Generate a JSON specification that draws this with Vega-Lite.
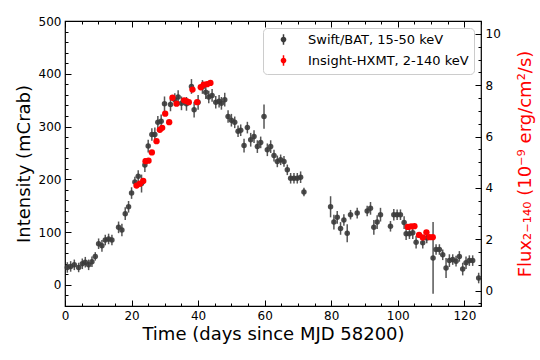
{
  "$schema": "https://vega.github.io/schema/vega-lite/v6.json",
  "width": 416,
  "height": 285,
  "autosize": {"type": "none"},
  "padding": {"left": 65, "top": 21, "right": 59, "bottom": 54},
  "background": "white",
  "config": {
    "font": "DejaVu Sans",
    "view": {"stroke": "black", "strokeWidth": 1.2},
    "axis": {
      "grid": false, "domain": false, "tickColor": "black", "tickWidth": 1,
      "labelColor": "black", "labelFontSize": 12, "labelFont": "DejaVu Sans",
      "titleFont": "DejaVu Sans", "titleFontWeight": "normal", "titleFontSize": 18,
      "titleColor": "black", "labelFlush": false, "labelOverlap": false
    }
  },
  "datasets": {
    "swift": [
      {"t": 0.7, "I": 33, "e": 10}, {"t": 1.7, "I": 35, "e": 10}, {"t": 2.8, "I": 38, "e": 10},
      {"t": 4.1, "I": 33, "e": 9}, {"t": 5.2, "I": 40, "e": 10}, {"t": 6.1, "I": 43, "e": 10},
      {"t": 7.1, "I": 38, "e": 10}, {"t": 8.1, "I": 44, "e": 10}, {"t": 9.1, "I": 54, "e": 8},
      {"t": 10.1, "I": 78, "e": 10}, {"t": 11.1, "I": 74, "e": 11}, {"t": 12.1, "I": 85, "e": 10},
      {"t": 13.1, "I": 87, "e": 10}, {"t": 14.1, "I": 85, "e": 10}, {"t": 16.1, "I": 109, "e": 11},
      {"t": 17.1, "I": 104, "e": 12}, {"t": 18.1, "I": 135, "e": 12}, {"t": 19.1, "I": 148, "e": 11},
      {"t": 20.0, "I": 174, "e": 11}, {"t": 21.0, "I": 195, "e": 10}, {"t": 22.0, "I": 206, "e": 11},
      {"t": 23.0, "I": 192, "e": 17}, {"t": 24.0, "I": 227, "e": 13}, {"t": 25.0, "I": 263, "e": 12},
      {"t": 26.1, "I": 285, "e": 12}, {"t": 27.0, "I": 285, "e": 13}, {"t": 27.9, "I": 308, "e": 12},
      {"t": 28.9, "I": 310, "e": 13}, {"t": 29.9, "I": 343, "e": 14}, {"t": 31.7, "I": 342, "e": 13},
      {"t": 33.0, "I": 351, "e": 12}, {"t": 34.0, "I": 356, "e": 13}, {"t": 35.0, "I": 344, "e": 13},
      {"t": 36.5, "I": 343, "e": 13}, {"t": 38.0, "I": 376, "e": 14}, {"t": 38.8, "I": 332, "e": 15},
      {"t": 40.0, "I": 346, "e": 14}, {"t": 41.3, "I": 375, "e": 13}, {"t": 42.3, "I": 365, "e": 13},
      {"t": 43.2, "I": 356, "e": 12}, {"t": 44.2, "I": 359, "e": 12}, {"t": 45.3, "I": 346, "e": 12},
      {"t": 46.3, "I": 348, "e": 12}, {"t": 47.0, "I": 344, "e": 12}, {"t": 48.0, "I": 351, "e": 13},
      {"t": 49.0, "I": 319, "e": 12}, {"t": 50.0, "I": 312, "e": 12}, {"t": 51.0, "I": 308, "e": 11},
      {"t": 52.0, "I": 291, "e": 11}, {"t": 52.8, "I": 293, "e": 11}, {"t": 53.8, "I": 264, "e": 13},
      {"t": 54.8, "I": 298, "e": 11}, {"t": 55.8, "I": 275, "e": 13}, {"t": 56.8, "I": 281, "e": 12},
      {"t": 57.8, "I": 262, "e": 12}, {"t": 58.8, "I": 270, "e": 11}, {"t": 59.8, "I": 319, "e": 23},
      {"t": 60.8, "I": 256, "e": 12}, {"t": 61.8, "I": 262, "e": 12}, {"t": 62.8, "I": 245, "e": 11},
      {"t": 63.8, "I": 234, "e": 11}, {"t": 64.8, "I": 237, "e": 10}, {"t": 65.8, "I": 234, "e": 10},
      {"t": 66.8, "I": 218, "e": 10}, {"t": 67.8, "I": 202, "e": 10}, {"t": 68.8, "I": 202, "e": 10},
      {"t": 69.8, "I": 202, "e": 10}, {"t": 70.8, "I": 204, "e": 11}, {"t": 71.8, "I": 176, "e": 8},
      {"t": 79.8, "I": 148, "e": 20}, {"t": 80.8, "I": 119, "e": 14}, {"t": 81.8, "I": 128, "e": 12},
      {"t": 82.8, "I": 107, "e": 12}, {"t": 83.8, "I": 123, "e": 11}, {"t": 84.8, "I": 98, "e": 17},
      {"t": 85.8, "I": 133, "e": 9}, {"t": 87.8, "I": 136, "e": 10}, {"t": 90.8, "I": 140, "e": 10},
      {"t": 91.8, "I": 145, "e": 12}, {"t": 92.8, "I": 109, "e": 14}, {"t": 93.8, "I": 119, "e": 13},
      {"t": 94.8, "I": 133, "e": 13}, {"t": 97.8, "I": 111, "e": 10}, {"t": 98.8, "I": 133, "e": 11},
      {"t": 99.8, "I": 133, "e": 10}, {"t": 100.8, "I": 133, "e": 10}, {"t": 101.9, "I": 118, "e": 12},
      {"t": 102.5, "I": 97, "e": 12}, {"t": 103.5, "I": 97, "e": 10}, {"t": 104.5, "I": 99, "e": 12},
      {"t": 105.5, "I": 81, "e": 12}, {"t": 107.5, "I": 80, "e": 11}, {"t": 108.7, "I": 89, "e": 10},
      {"t": 110.6, "I": 51, "e": 68}, {"t": 111.5, "I": 67, "e": 10}, {"t": 112.5, "I": 67, "e": 10},
      {"t": 113.5, "I": 57, "e": 10}, {"t": 114.5, "I": 32, "e": 19}, {"t": 115.5, "I": 46, "e": 12},
      {"t": 116.5, "I": 48, "e": 10}, {"t": 117.5, "I": 45, "e": 10}, {"t": 118.5, "I": 54, "e": 10},
      {"t": 119.5, "I": 30, "e": 12}, {"t": 120.5, "I": 42, "e": 12}, {"t": 121.5, "I": 46, "e": 10},
      {"t": 122.5, "I": 46, "e": 10}, {"t": 124.3, "I": 13, "e": 10}
    ],
    "hxmt": [
      {"t": 21.5, "F": 4.09}, {"t": 22.5, "F": 4.16}, {"t": 23.5, "F": 4.27}, {"t": 24.2, "F": 5.04},
      {"t": 25.1, "F": 5.06}, {"t": 26.1, "F": 5.38}, {"t": 27.5, "F": 5.82}, {"t": 28.5, "F": 6.26},
      {"t": 29.2, "F": 6.34}, {"t": 30.1, "F": 6.89}, {"t": 31.3, "F": 6.56}, {"t": 32.3, "F": 7.51},
      {"t": 33.5, "F": 7.28}, {"t": 35.8, "F": 7.41}, {"t": 36.5, "F": 7.38}, {"t": 37.2, "F": 7.34},
      {"t": 38.3, "F": 7.83}, {"t": 39.7, "F": 7.34}, {"t": 40.8, "F": 7.92}, {"t": 41.7, "F": 8.02},
      {"t": 42.7, "F": 8.04}, {"t": 43.7, "F": 8.09}, {"t": 103.0, "F": 2.48}, {"t": 104.0, "F": 2.50},
      {"t": 105.0, "F": 2.51}, {"t": 106.4, "F": 2.17}, {"t": 107.5, "F": 2.07}, {"t": 108.6, "F": 2.27},
      {"t": 109.5, "F": 2.08}, {"t": 110.5, "F": 2.08}
    ]
  },
  "layer": [
    {
      "data": {"name": "swift"},
      "mark": {"type": "errorbar", "color": "#555555", "thickness": 1.5},
      "encoding": {
        "x": {"field": "t", "type": "quantitative", "scale": {"domain": [0, 125], "nice": false, "zero": false},
          "axis": {"orient": "bottom", "values": [0, 20, 40, 60, 80, 100, 120], "tickSize": -6, "labelPadding": 10, "titlePadding": 4, "title": "Time (days since MJD 58200)"}},
        "y": {"field": "I", "type": "quantitative", "scale": {"domain": [-40, 500], "nice": false, "zero": false},
          "axis": {"orient": "left", "values": [0, 100, 200, 300, 400, 500], "tickSize": -6, "labelPadding": 10, "titlePadding": 5, "title": "Intensity (mCrab)"}},
        "yError": {"field": "e"}
      }
    },
    {
      "data": {"name": "swift"},
      "mark": {"type": "circle", "size": 30, "opacity": 0.9},
      "encoding": {
        "x": {"field": "t", "type": "quantitative", "scale": {"domain": [0, 125], "nice": false, "zero": false},
          "axis": {"orient": "bottom", "values": [0, 5, 10, 15, 20, 25, 30, 35, 40, 45, 50, 55, 60, 65, 70, 75, 80, 85, 90, 95, 100, 105, 110, 115, 120, 125], "tickSize": -3, "labels": false, "title": null}},
        "y": {"field": "I", "type": "quantitative", "scale": {"domain": [-40, 500], "nice": false, "zero": false},
          "axis": {"orient": "left", "values": [-20, 0, 20, 40, 60, 80, 100, 120, 140, 160, 180, 200, 220, 240, 260, 280, 300, 320, 340, 360, 380, 400, 420, 440, 460, 480, 500], "tickSize": -3, "labels": false, "title": null}},
        "color": {"datum": "Swift/BAT, 15-50 keV", "type": "nominal",
          "scale": {"domain": ["Swift/BAT, 15-50 keV", "Insight-HXMT, 2-140 keV"], "range": ["#3a3a3a", "#ff0000"]},
          "legend": {"orient": "top-right", "offset": 7, "title": null, "labelFontSize": 13, "labelFont": "DejaVu Sans", "labelColor": "black", "labelLimit": 0,
            "padding": 5, "strokeColor": "#cccccc", "fillColor": "white", "cornerRadius": 4,
            "symbolType": "M0,-1L0,1M-0.4,0A0.4,0.4 0 1,0 0.4,0A0.4,0.4 0 1,0 -0.4,0Z", "symbolSize": 110, "symbolStrokeWidth": 1.5,
            "rowPadding": 4, "labelOffset": 18, "symbolOffset": 9, "symbolOpacity": 1,
            "encode": {"symbols": {"update": {"stroke": {"scale": "color", "field": "value"}}}}}}
      }
    },
    {
      "data": {"name": "hxmt"},
      "mark": {"type": "circle", "size": 40, "opacity": 1},
      "encoding": {
        "x": {"field": "t", "type": "quantitative", "scale": {"domain": [0, 125], "nice": false, "zero": false},
          "axis": {"orient": "top", "values": [0, 20, 40, 60, 80, 100, 120], "tickSize": -6, "labels": false, "title": null}},
        "y": {"field": "F", "type": "quantitative", "scale": {"domain": [-0.6, 10.5], "nice": false, "zero": false},
          "axis": {"orient": "right", "values": [0, 2, 4, 6, 8, 10], "tickSize": -6, "labelPadding": 10, "titlePadding": 34,
            "title": "Flux₂₋₁₄₀ (10⁻⁹ erg/cm²/s)", "titleColor": "#ff0000", "titleAngle": -90}},
        "color": {"datum": "Insight-HXMT, 2-140 keV", "type": "nominal"}
      }
    },
    {
      "data": {"name": "hxmt"},
      "mark": {"type": "circle", "size": 10, "opacity": 0},
      "encoding": {
        "x": {"field": "t", "type": "quantitative", "scale": {"domain": [0, 125], "nice": false, "zero": false},
          "axis": {"orient": "top", "values": [0, 5, 10, 15, 20, 25, 30, 35, 40, 45, 50, 55, 60, 65, 70, 75, 80, 85, 90, 95, 100, 105, 110, 115, 120, 125], "tickSize": -3, "labels": false, "title": null}},
        "y": {"field": "F", "type": "quantitative", "scale": {"domain": [-0.6, 10.5], "nice": false, "zero": false},
          "axis": {"orient": "right", "values": [-0.5, 0, 0.5, 1, 1.5, 2, 2.5, 3, 3.5, 4, 4.5, 5, 5.5, 6, 6.5, 7, 7.5, 8, 8.5, 9, 9.5, 10, 10.5], "tickSize": -3, "labels": false, "title": null}}
      }
    }
  ],
  "resolve": {"scale": {"y": "independent"}, "axis": {"x": "independent", "y": "independent"}}
}
